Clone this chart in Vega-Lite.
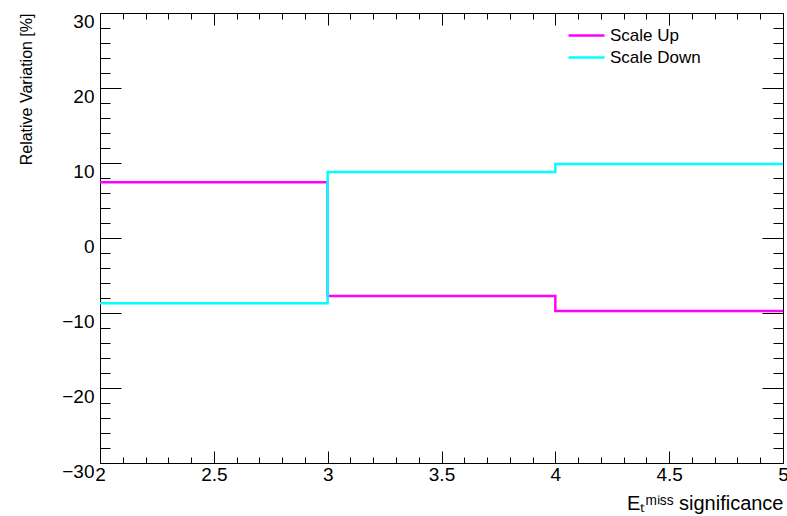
{
  "$schema": "https://vega.github.io/schema/vega-lite/v6.json",
  "width": 683,
  "height": 450,
  "autosize": {"type": "none"},
  "padding": {"left": 100, "top": 13, "right": 4, "bottom": 53},
  "background": "white",
  "config": {
    "font": "Liberation Sans",
    "view": {"stroke": "black", "strokeWidth": 1},
    "axis": {
      "grid": false,
      "domain": false,
      "tickColor": "black",
      "tickWidth": 1,
      "labelColor": "black",
      "titleColor": "black",
      "labelFontSize": 19,
      "titleFontWeight": "normal",
      "labelFlush": false,
      "labelOverlap": false
    },
    "legend": {"labelColor": "black"}
  },
  "data": {
    "values": [
      {"x": 2, "value": 7.45, "series": "Scale Up"},
      {"x": 3, "value": -7.73, "series": "Scale Up"},
      {"x": 4, "value": -9.73, "series": "Scale Up"},
      {"x": 5, "value": -9.73, "series": "Scale Up"},
      {"x": 2, "value": -8.69, "series": "Scale Down"},
      {"x": 3, "value": 8.8, "series": "Scale Down"},
      {"x": 4, "value": 9.87, "series": "Scale Down"},
      {"x": 5, "value": 9.87, "series": "Scale Down"}
    ]
  },
  "layer": [
    {
      "mark": {"type": "line", "interpolate": "step-after", "strokeWidth": 2.5},
      "encoding": {
        "x": {
          "field": "x",
          "type": "quantitative",
          "scale": {"domain": [2, 5], "nice": false, "zero": false},
          "axis": {
            "orient": "bottom",
            "values": [2,2.1,2.2,2.3,2.4,2.5,2.6,2.7,2.8,2.9,3,3.1,3.2,3.3,3.4,3.5,3.6,3.7,3.8,3.9,4,4.1,4.2,4.3,4.4,4.5,4.6,4.7,4.8,4.9,5],
            "format": "~g",
            "labelExpr": "abs(datum.value*2 - round(datum.value*2)) < 0.000001 ? datum.label : ''",
            "tickSize": {"condition": {"test": "abs(datum.value*2 - round(datum.value*2)) < 0.000001", "value": -12}, "value": -6},
            "labelPadding": 14,
            "title": "Eₜᵐⁱˢˢ significance",
            "titleFontSize": 20,
            "titleAnchor": "end",
            "titlePadding": 3
          }
        },
        "y": {
          "field": "value",
          "type": "quantitative",
          "scale": {"domain": [-30, 30], "nice": false, "zero": false},
          "axis": {
            "orient": "left",
            "values": [-30,-28,-26,-24,-22,-20,-18,-16,-14,-12,-10,-8,-6,-4,-2,0,2,4,6,8,10,12,14,16,18,20,22,24,26,28,30],
            "format": "~g",
            "labelExpr": "datum.value % 10 === 0 ? datum.label : ''",
            "tickSize": {"condition": {"test": "datum.value % 10 === 0", "value": -21}, "value": -10},
            "labelPadding": 27,
            "labelOffset": 8,
            "title": "Relative Variation [%]",
            "titleFontSize": 16,
            "titleAnchor": "end",
            "titlePadding": 27
          }
        },
        "color": {
          "field": "series",
          "type": "nominal",
          "sort": ["Scale Up", "Scale Down"],
          "scale": {"domain": ["Scale Up", "Scale Down"], "range": ["#ff00ff", "#00ffff"]},
          "legend": {
            "orient": "none",
            "legendX": 476,
            "legendY": 12,
            "title": null,
            "symbolType": "M-2,0H2",
            "symbolSize": 324,
            "symbolStrokeWidth": 2.5,
            "labelFontSize": 17,
            "labelOffset": 13,
            "rowPadding": 3,
            "padding": 0
          }
        }
      }
    },
    {
      "mark": {"type": "point", "opacity": 0},
      "encoding": {
        "x": {
          "field": "x",
          "type": "quantitative",
          "axis": {
            "orient": "top",
            "values": [2,2.1,2.2,2.3,2.4,2.5,2.6,2.7,2.8,2.9,3,3.1,3.2,3.3,3.4,3.5,3.6,3.7,3.8,3.9,4,4.1,4.2,4.3,4.4,4.5,4.6,4.7,4.8,4.9,5],
            "labels": false,
            "title": null,
            "tickSize": {"condition": {"test": "abs(datum.value*2 - round(datum.value*2)) < 0.000001", "value": -12}, "value": -6}
          }
        },
        "y": {
          "field": "value",
          "type": "quantitative",
          "axis": {
            "orient": "right",
            "values": [-30,-28,-26,-24,-22,-20,-18,-16,-14,-12,-10,-8,-6,-4,-2,0,2,4,6,8,10,12,14,16,18,20,22,24,26,28,30],
            "labels": false,
            "title": null,
            "tickSize": {"condition": {"test": "datum.value % 10 === 0", "value": -21}, "value": -10}
          }
        }
      }
    }
  ],
  "resolve": {"axis": {"x": "independent", "y": "independent"}}
}
